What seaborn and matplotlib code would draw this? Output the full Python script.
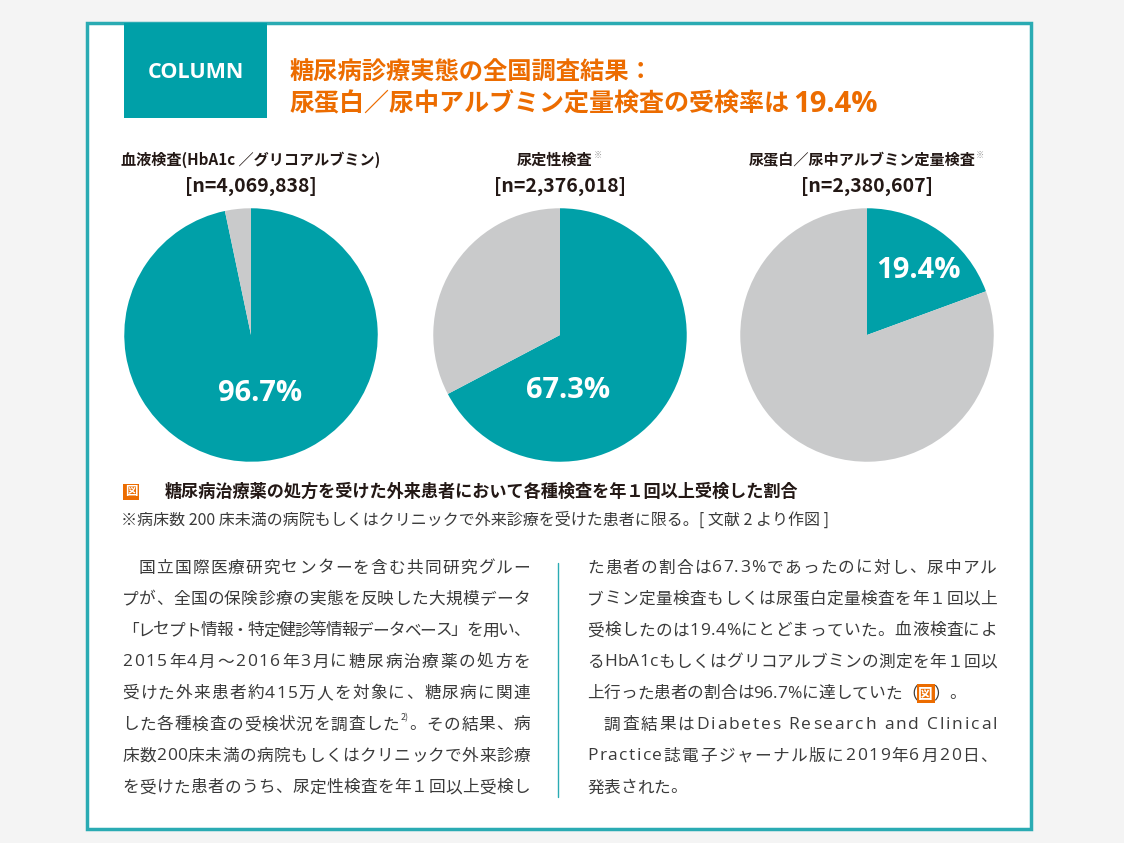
import re
import numpy as np
import pandas as pd
import matplotlib
matplotlib.use('Agg')
import matplotlib.pyplot as plt
from matplotlib.patches import Rectangle
import seaborn as sns

# data
chart_titles = ['血液検査(HbA1c ／グリコアルブミン)', '尿定性検査', '尿蛋白／尿中アルブミン定量検査']
chart_marks = ['', '※', '※']
n_labels = ['[n=4,069,838]', '[n=2,376,018]', '[n=2,380,607]']
tested_pct = [96.7, 67.3, 19.4]

header_tag = 'COLUMN'
header_line1 = '糖尿病診療実態の全国調査結果：'
header_line2 = '尿蛋白／尿中アルブミン定量検査の受検率は'
header_value = '19.4%'
caption = '糖尿病治療薬の処方を受けた外来患者において各種検査を年１回以上受検した割合'
note = '※病床数 200 床未満の病院もしくはクリニックで外来診療を受けた患者に限る。[ 文献 2 より作図 ]'

left_lines = [
    '　国立国際医療研究センターを含む共同研究グルー',
    'プが、全国の保険診療の実態を反映した大規模データ',
    '「レセプト情報・特定健診等情報データベース」を用い、',
    '2015年4月～2016年3月に糖尿病治療薬の処方を',
    '受けた外来患者約415万人を対象に、糖尿病に関連',
    'した各種検査の受検状況を調査した{2)}。その結果、病',
    '床数200床未満の病院もしくはクリニックで外来診療',
    'を受けた患者のうち、尿定性検査を年１回以上受検し',
]
right_lines = [
    'た患者の割合は67.3%であったのに対し、尿中アル',
    'ブミン定量検査もしくは尿蛋白定量検査を年１回以上',
    '受検したのは19.4%にとどまっていた。血液検査によ',
    'るHbA1cもしくはグリコアルブミンの測定を年１回以',
    '上行った患者の割合は96.7%に達していた（<図>）。',
    '　調査結果はDiabetes Research and Clinical',
    'Practice誌電子ジャーナル版に2019年6月20日、',
    '発表された。',
]
# lines that close a paragraph are not justified
left_ends = []
right_ends = [4, 7]

TEAL = '#00a0a8'
GRAY = '#c9cacb'
ORANGE = '#ec6c00'
FRAME = '#2aabb3'
INK = '#231815'
BODY = '#3a3a3a'

sns.set_theme(style='white')
plt.rcParams['font.family'] = ['Noto Sans CJK JP', 'DejaVu Sans']
LATIN = ['Open Sans', 'DejaVu Sans']

W, H = 1124, 843
fig = plt.figure(figsize=(W / 100, H / 100), dpi=100, facecolor='#f4f4f4')
bg = fig.add_axes([0, 0, 1, 1])
bg.set_xlim(0, W)
bg.set_ylim(H, 0)
bg.axis('off')

bg.add_patch(Rectangle((87, 23), 944, 806, facecolor='white', edgecolor=FRAME, lw=2.5))
bg.add_patch(Rectangle((124, 23), 143, 95, facecolor=TEAL, edgecolor='none'))
bg.text(196, 72, header_tag, color='white', fontsize=15.5, fontweight='bold',
        family=LATIN, ha='center', va='center')
bg.text(289, 73, header_line1, color=ORANGE, fontsize=17.5, fontweight='bold',
        ha='left', va='center')
h2 = bg.text(289, 104, header_line2, color=ORANGE, fontsize=18, fontweight='bold',
             ha='left', va='center')
bg.annotate(header_value, xy=(1, 0.5), xycoords=h2, xytext=(3, 0), textcoords='offset points',
            color=ORANGE, fontsize=21, fontweight='bold', family=LATIN,
            ha='left', va='center')

# pies
pie_x = [251, 560, 867]
pie_y = 335
R = 128
label_xy = [(0.07, -0.46), (0.06, -0.44), (0.41, 0.51)]
for i, p in enumerate(tested_pct):
    cx = pie_x[i]
    ax = fig.add_axes([(cx - R) / W, (H - pie_y - R) / H, 2 * R / W, 2 * R / H])
    ax.pie([p, 100 - p], colors=[TEAL, GRAY], startangle=90, counterclock=False,
           wedgeprops=dict(linewidth=0))
    ax.set_xlim(-1.01, 1.01)
    ax.set_ylim(-1.01, 1.01)
    ax.patch.set_alpha(0)
    ax.text(label_xy[i][0], label_xy[i][1], f'{p}%', color='white', fontsize=21,
            fontweight='bold', family=LATIN, ha='center', va='center')

    shift = -5 if chart_marks[i] else 0
    t = bg.text(cx + shift, 160, chart_titles[i], color=INK, fontsize=10.9,
                fontweight='bold', ha='center', va='center')
    if chart_marks[i]:
        bg.annotate(chart_marks[i], xy=(1, 1), xycoords=t, xytext=(0.5, 1),
                    textcoords='offset points', fontsize=6, color='#9a9a9a',
                    ha='left', va='top')
    bg.text(cx, 186, n_labels[i], color=INK, fontsize=14, fontweight='bold',
            ha='center', va='center')

# caption
bg.text(131, 492, '図', color='white', fontsize=9, fontweight='bold', ha='center', va='center',
        bbox=dict(boxstyle='square,pad=0.12', facecolor=ORANGE, edgecolor='none'))
bg.text(165, 492, caption, color=INK, fontsize=12.35, fontweight='bold', ha='left', va='center')
bg.text(121, 520, note, color=BODY, fontsize=11.5, ha='left', va='center')

# body text, justified per line
renderer = fig.canvas.get_renderer()
BODY_PT = 12
em = BODY_PT * 100 / 72


def draw_line(line, x0, x1, y, justify):
    if line.startswith('　'):
        x0 += em
        line = line[1:]
    tokens = re.findall(r'\{[^}]*\}|<[^>]*>|.', line)
    arts = []
    widths = []
    for tok in tokens:
        if tok.startswith('{'):
            a = bg.text(0, y - 7, tok[1:-1], fontsize=6.5, color=BODY, ha='left', va='center')
        elif tok.startswith('<'):
            a = bg.text(0, y, tok[1:-1], fontsize=10.5, color='white', fontweight='bold',
                        ha='left', va='center',
                        bbox=dict(boxstyle='square,pad=0.12', facecolor=ORANGE, edgecolor='none'))
        elif tok == ' ':
            a = None
        elif tok.isascii():
            a = bg.text(0, y, tok, fontsize=BODY_PT + 0.5, color=BODY, family=LATIN,
                        ha='left', va='center')
        else:
            a = bg.text(0, y, tok, fontsize=BODY_PT, color=BODY, ha='left', va='center')
        arts.append(a)
        widths.append(0.26 * em if a is None else a.get_window_extent(renderer).width)
    gap = 0
    if justify and len(tokens) > 1:
        gap = (x1 - x0 - sum(widths)) / (len(tokens) - 1)
    x = x0
    for a, w in zip(arts, widths):
        if a is not None:
            a.set_x(x)
        x += w + gap


line_y = [568 + 31.4 * k for k in range(8)]
for k, line in enumerate(left_lines):
    draw_line(line, 122, 530, line_y[k], k not in left_ends)
for k, line in enumerate(right_lines):
    draw_line(line, 587, 997, line_y[k], k not in right_ends)

bg.plot([558, 558], [563, 797], color=FRAME, lw=1)

fig.savefig('out.png', dpi=100, facecolor=fig.get_facecolor())
